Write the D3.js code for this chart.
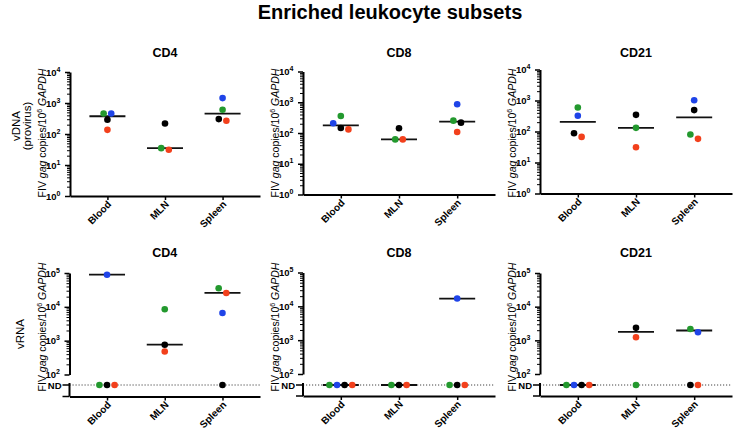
<!DOCTYPE html>
<html><head><meta charset="utf-8">
<script src="https://cdn.jsdelivr.net/npm/d3@7"></script>
<style>body{margin:0;background:#fff} svg{display:block;font-family:"Liberation Sans",Arial,sans-serif}</style>
</head><body><svg id="c" width="733" height="431"></svg>
<script>
const categories = ["Blood", "MLN", "Spleen"];
const animals = ["Cat 1", "Cat 2", "Cat 3", "Cat 4"];
const animalColors = ["#23992e", "#1f44e8", "#000000", "#f2401c"];
const subsets = ["CD4", "CD8", "CD21"];
const ND = "ND";
// per animal: values for Blood, MLN, Spleen (null = not sampled, "ND" = not detected)
const vDNA_CD4  = [[460, 35, 605], [460, null, 1440], [288, 218, 302], [136, 31, 268]];
const vDNA_CD8  = [[357, 62, 252], [207, null, 860], [146, 142, 217], [131, 62, 108]];
const vDNA_CD21 = [[595, 131, 80], [321, null, 1020], [88, 345, 490], [67, 31, 58]];
const vRNA_CD4  = [[ND, 8500, 35500], [89000, null, 6600], [ND, 760, ND], [ND, 480, 25700]];
const vRNA_CD8  = [[ND, ND, ND], [ND, null, 17000], [ND, ND, ND], [ND, ND, ND]];
const vRNA_CD21 = [[ND, ND, 2180], [ND, null, 1740], [ND, 2350, ND], [ND, 1240, ND]];
const vDNATicks = [1, 10, 100, 1000, 10000];
const vRNATicks = [100, 1000, 10000, 100000];

const svg = d3.select("#c");
svg.append("text").attr("x", 390).attr("y", 18.5).attr("text-anchor", "middle")
  .attr("font-size", 20).attr("font-weight", "bold").text("Enriched leukocyte subsets");

const topCfg = [
  {ax: 70, x1: 260, y0: 196, y1: 72},
  {ax: 303, x1: 495, y0: 194.5, y1: 71.5},
  {ax: 540, x1: 732, y0: 193.5, y1: 69.5}
];
const botCfg = [
  {ax: 69.5, x1: 260, y0: 374.5, y1: 273, nd: 385, axisY: 396.5},
  {ax: 303, x1: 495, y0: 374, y1: 272.5, nd: 385, axisY: 396},
  {ax: 540, x1: 732, y0: 374, y1: 273, nd: 385, axisY: 396}
];

function minorTicks(lo, hi) {
  const out = [];
  for (let p = lo; p < hi; p *= 10) for (let k = 2; k <= 9; k++) out.push(p * k);
  return out;
}

function supLabel(sel) {
  sel.each(function(d) {
    const t = d3.select(this);
    t.text("10");
    t.append("tspan").attr("dy", -4).attr("font-size", 7).text(Math.round(Math.log10(d)));
  });
}

function ylabel(g, x, y) {
  const t = g.append("text").attr("transform", `translate(${x},${y}) rotate(-90)`)
    .attr("text-anchor", "middle").attr("font-size", 10.5);
  t.append("tspan").text("FIV ");
  t.append("tspan").attr("font-style", "italic").text("gag");
  t.append("tspan").text(" copies/10");
  t.append("tspan").attr("dy", -4).attr("font-size", 7).text("6");
  t.append("tspan").attr("dy", 4).text(" ");
  t.append("tspan").attr("font-style", "italic").text("GAPDH");
}

function drawPanel(title, data, cfg, rna) {
  const g = svg.append("g");
  const x = d3.scalePoint().domain(categories).range([cfg.ax, cfg.x1]).padding(0.65);
  const domainLo = rna ? 100 : 1, domainHi = rna ? 1e5 : 1e4;
  const y = d3.scaleLog().domain([domainLo, domainHi]).range([cfg.y0, cfg.y1]);
  const axisY = rna ? cfg.axisY : cfg.y0;
  const ypos = v => v === ND ? cfg.nd : y(v);

  g.append("text").attr("x", (cfg.ax + cfg.x1) / 2).attr("y", rna ? 257 : 57)
    .attr("text-anchor", "middle").attr("font-size", 12.5).attr("font-weight", "bold").text(title);

  if (rna) {
    g.append("line").attr("x1", cfg.ax).attr("x2", cfg.x1).attr("y1", cfg.nd).attr("y2", cfg.nd)
      .attr("stroke", "#444").attr("stroke-width", 1).attr("stroke-dasharray", "1.2,1.8");
  }

  const ya = g.append("g").attr("transform", `translate(${cfg.ax},0)`)
    .call(d3.axisLeft(y).tickValues(rna ? vRNATicks : vDNATicks).tickSize(5).tickSizeOuter(0).tickPadding(4.5));
  ya.select(".domain").attr("stroke-width", 2);
  ya.selectAll(".tick line").attr("stroke-width", 1.5);
  ya.selectAll(".tick text").attr("font-size", 9.5).attr("font-weight", "bold").attr("font-family", null).call(supLabel);
  const ym = g.append("g").attr("transform", `translate(${cfg.ax},0)`)
    .call(d3.axisLeft(y).tickValues(minorTicks(domainLo, domainHi)).tickSize(3).tickFormat(""));
  ym.select(".domain").remove();
  ym.selectAll(".tick line").attr("stroke-width", 1);

  if (rna) {
    g.append("line").attr("x1", cfg.ax).attr("x2", cfg.ax).attr("y1", cfg.nd - 2).attr("y2", axisY)
      .attr("stroke", "#000").attr("stroke-width", 2);
    [cfg.nd, axisY].forEach(yy => g.append("line").attr("x1", cfg.ax - 7).attr("x2", cfg.ax)
      .attr("y1", yy).attr("y2", yy).attr("stroke", "#000").attr("stroke-width", 1.5));
    g.append("text").attr("x", cfg.ax - 8).attr("y", cfg.nd + 3.5).attr("text-anchor", "end")
      .attr("font-size", 9.5).attr("font-weight", "bold").text("ND");
  }

  const xa = g.append("g").attr("transform", `translate(0,${axisY})`)
    .call(d3.axisBottom(x).tickSize(4).tickSizeOuter(0));
  xa.select(".domain").attr("stroke-width", 2);
  xa.selectAll(".tick line").attr("stroke-width", 1.5);
  xa.selectAll(".tick text").attr("font-family", null).attr("font-size", 10).attr("font-weight", "bold")
    .attr("x", 0).attr("y", 0).attr("dy", 0).attr("text-anchor", "end")
    .attr("transform", "translate(4,9) rotate(-45)");

  const spacing = 7.6, r = 3.3;
  categories.forEach((c, ci) => {
    const pts = [];
    data.forEach((row, ai) => {
      const v = row[ci];
      if (v === null || v === undefined) return;
      pts.push({ai, v, py: ypos(v)});
    });
    pts.sort((a, b) => a.py - b.py || a.ai - b.ai);
    const clusters = [];
    pts.forEach(p => {
      const last = clusters[clusters.length - 1];
      if (last && p.py - last[last.length - 1].py < 6.2) last.push(p); else clusters.push([p]);
    });
    clusters.forEach(cl => {
      cl.sort((a, b) => a.ai - b.ai);
      cl.forEach((p, i) => p.px = x(c) + (i - (cl.length - 1) / 2) * spacing);
    });
    const nums = pts.filter(p => p.v !== ND).map(p => p.v);
    let my = null;
    if (nums.length) my = y(d3.median(nums));
    else if (pts.length) my = cfg.nd;
    if (my !== null) {
      g.append("line").attr("x1", x(c) - 18).attr("x2", x(c) + 18).attr("y1", my).attr("y2", my)
        .attr("stroke", "#111").attr("stroke-width", 1.8);
    }
    g.selectAll(null).data(pts).enter().append("circle")
      .attr("cx", p => p.px).attr("cy", p => p.py).attr("r", r)
      .attr("fill", p => animalColors[p.ai]);
  });

  ylabel(g, cfg.ax - 24, rna ? 327 : 133);
}

const vDNA = [vDNA_CD4, vDNA_CD8, vDNA_CD21];
const vRNA = [vRNA_CD4, vRNA_CD8, vRNA_CD21];
subsets.forEach((s, i) => drawPanel(s, vDNA[i], topCfg[i], false));
subsets.forEach((s, i) => drawPanel(s, vRNA[i], botCfg[i], true));

const rl = svg.append("g").attr("font-size", 11.5);
rl.append("text").attr("transform", "translate(20,126) rotate(-90)").attr("text-anchor", "middle").text("vDNA");
rl.append("text").attr("transform", "translate(31,126) rotate(-90)").attr("text-anchor", "middle").text("(provirus)");
rl.append("text").attr("transform", "translate(24,334) rotate(-90)").attr("text-anchor", "middle").text("vRNA");
</script></body></html>
